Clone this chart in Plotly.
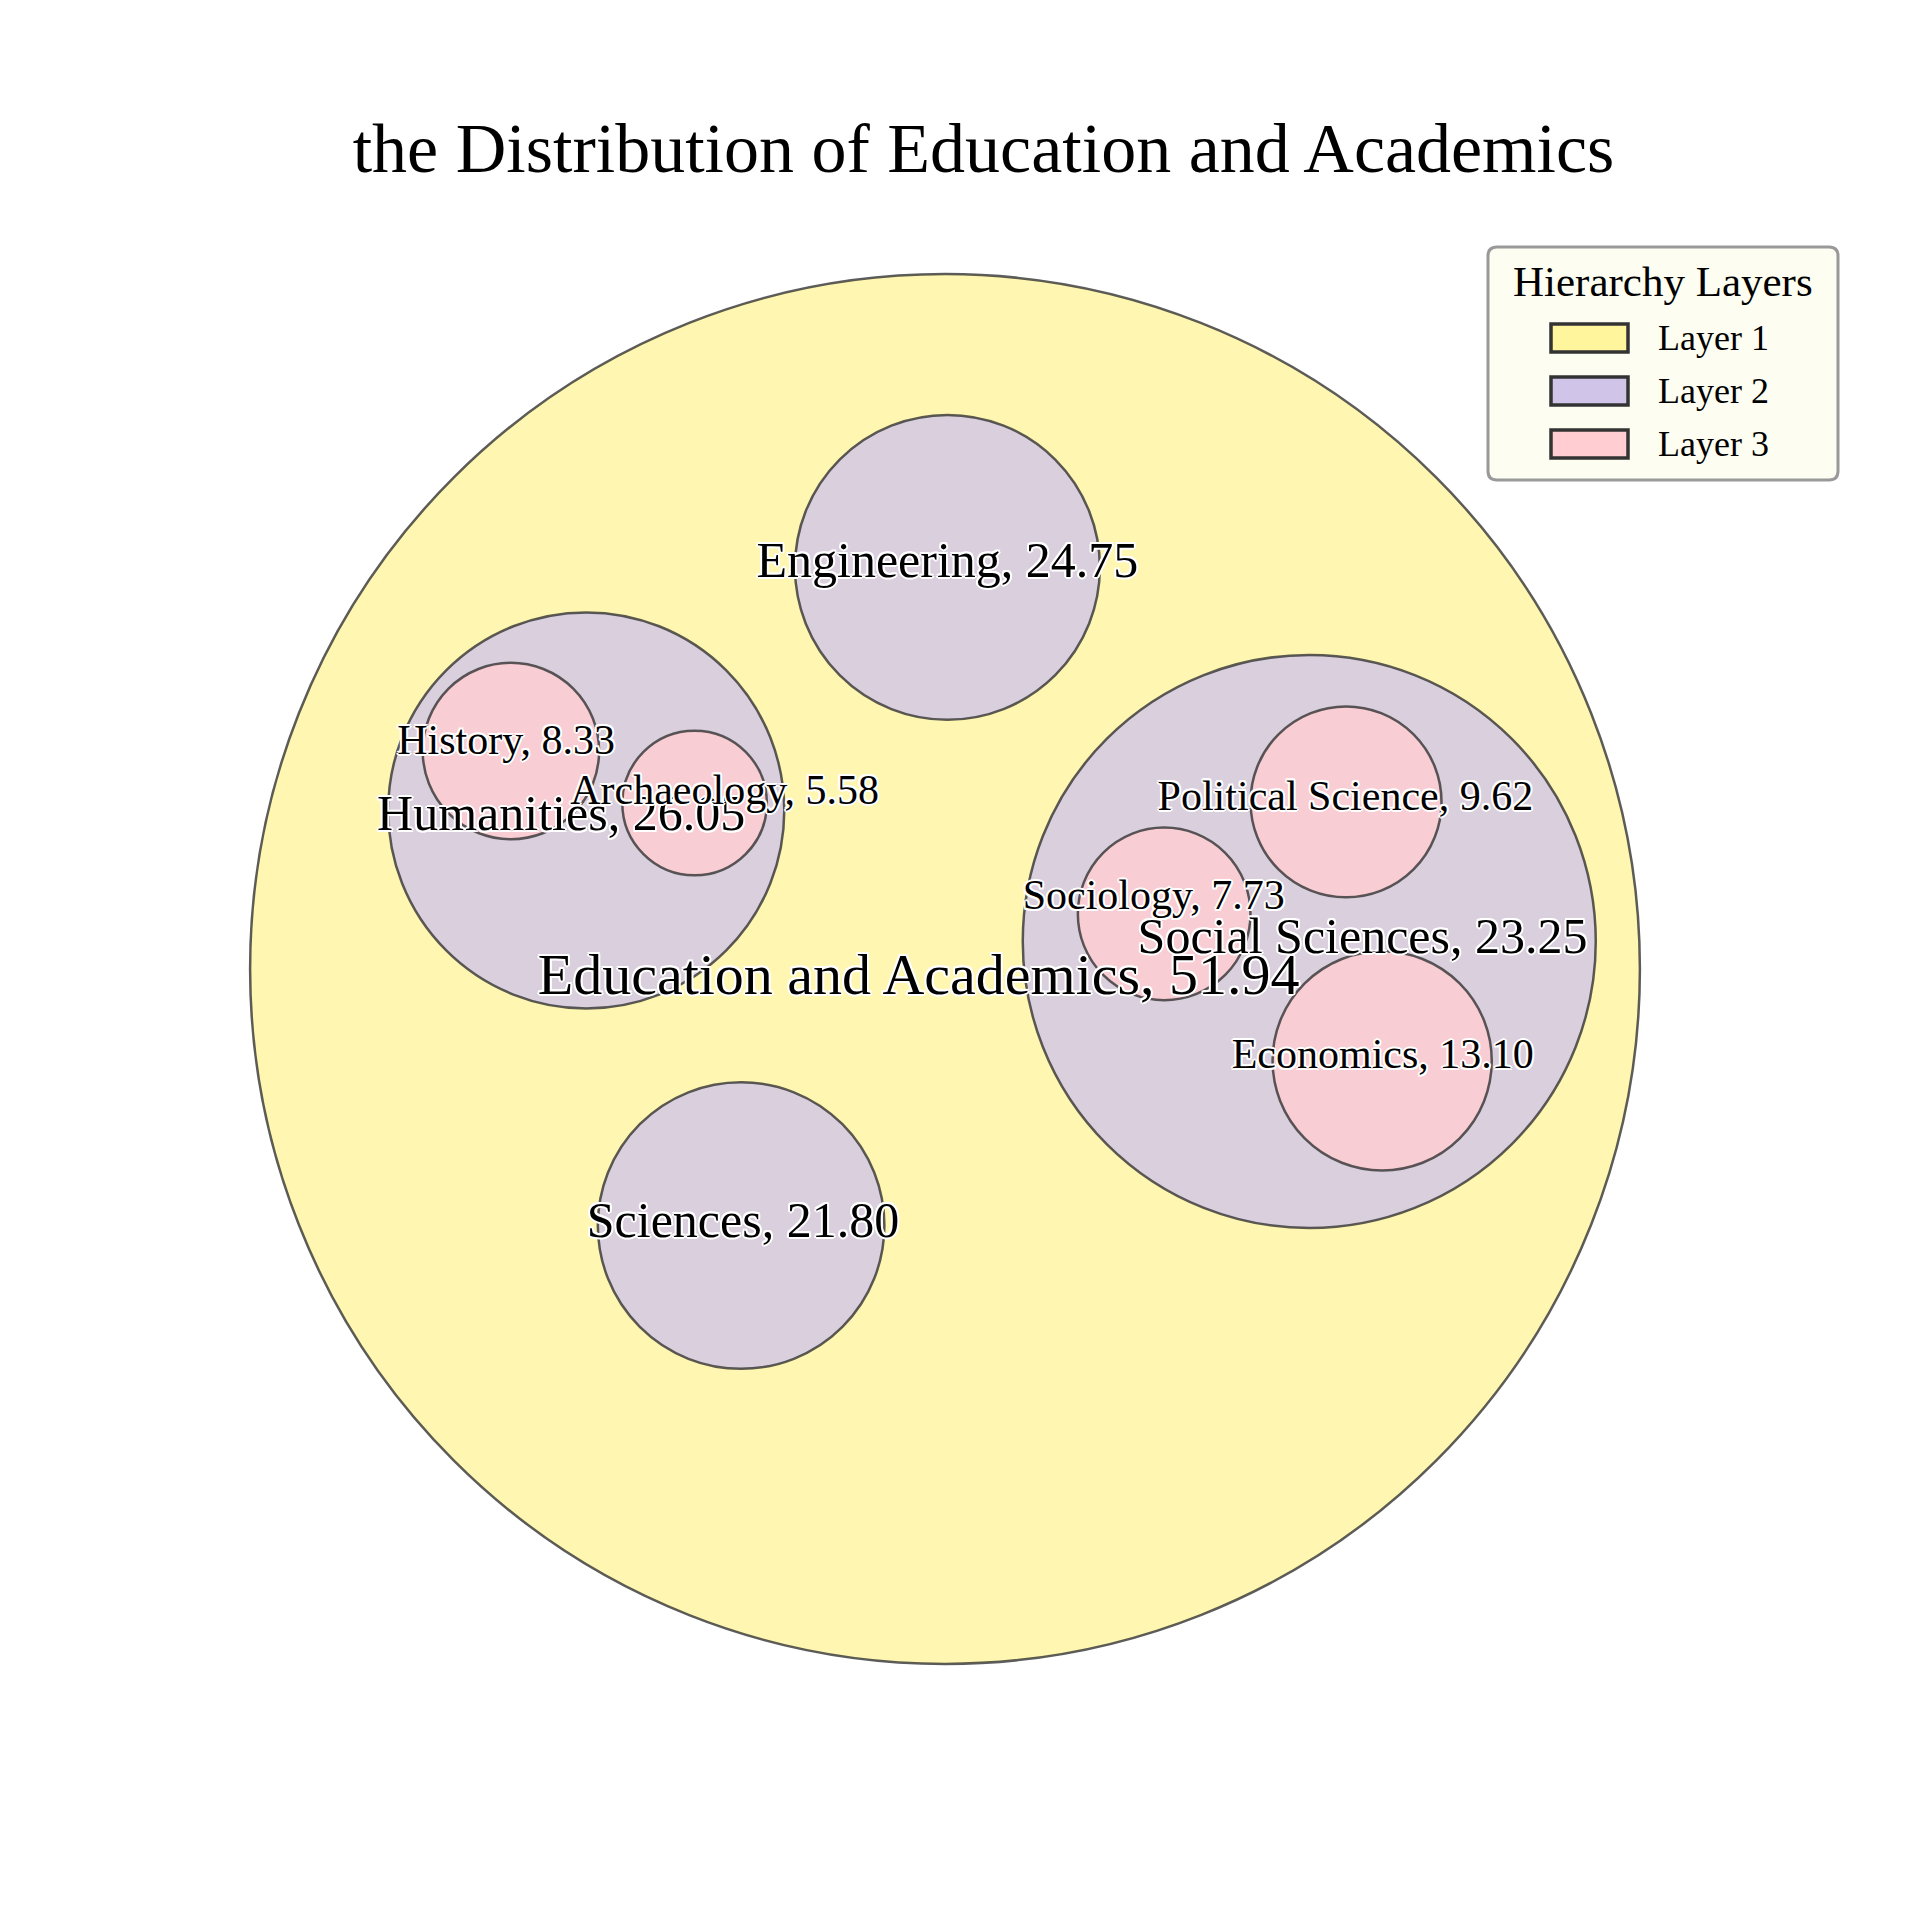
import plotly.graph_objects as go

# ---------------- data ----------------
names = ["Education and Academics", "Humanities", "History", "Archaeology",
         "Sciences", "Engineering", "Social Sciences", "Sociology",
         "Political Science", "Economics"]
values = [51.94, 26.05, 8.33, 5.58, 21.80, 24.75, 23.25, 7.73, 9.62, 13.10]
layers = [1, 2, 3, 3, 2, 2, 2, 3, 3, 3]
# packed circle centres / radii (normalised: outer circle radius = 1)
circle_x = [0.0, -0.5163, -0.6247, -0.3604, -0.2934, 0.0035, 0.5242, 0.3154, 0.5771, 0.6291]
circle_y = [0.0, 0.2282, 0.3137, 0.2388, -0.3692, 0.578, 0.0396, 0.0793, 0.2405, -0.1322]
circle_r = [1.0, 0.285, 0.1269, 0.104, 0.2062, 0.2194, 0.4123, 0.1242, 0.1374, 0.1577]
# label anchor positions
label_x = [-0.0379, -0.5524, -0.6317, -0.3172, -0.2907, 0.0035, 0.6009, 0.3004, 0.5762, 0.6300]
label_y = [-0.0150, 0.2176, 0.3251, 0.2529, -0.3674, 0.5824, 0.0414, 0.1013, 0.2441, -0.1278]
layer_names = ["Layer 1", "Layer 2", "Layer 3"]

# ---------------- style ----------------
FONT = "Liberation Serif"
fill_colors = {1: "rgba(255,245,157,0.8)", 2: "rgba(209,196,233,0.8)", 3: "rgba(255,205,210,0.8)"}
legend_colors = ["#fff59d", "#d1c4e9", "#ffcdd2"]
label_sizes = {1: 58, 2: 50, 3: 42}
edge = "rgba(51,51,51,0.8)"

L, T, W, H = 187, 211, 1500, 1500
R = 750 / 694.9
OX, OY = -8, -8  # pixel offset for legend elements

def px(x):
    return (x + OX - L) / W

def py(y):
    return 1 - (y + OY - T) / H

fig = go.Figure()
shapes = []
for lay in (1, 2, 3):
    for i in range(len(names)):
        if layers[i] != lay:
            continue
        shapes.append(dict(type="circle", xref="x", yref="y", layer="below",
                           x0=circle_x[i] - circle_r[i], x1=circle_x[i] + circle_r[i],
                           y0=circle_y[i] - circle_r[i], y1=circle_y[i] + circle_r[i],
                           fillcolor=fill_colors[lay], line=dict(color=edge, width=2.5)))

texts = [f"{n}, {v:.2f}" for n, v in zip(names, values)]
shadow = ", ".join(f"white {dx}px {dy}px 0px" for dx, dy in
                   [(-2, 0), (2, 0), (0, -2), (0, 2), (-1.5, -1.5), (1.5, -1.5), (-1.5, 1.5), (1.5, 1.5)])
order = [i for lay in (1, 2, 3) for i in range(len(names)) if layers[i] == lay]
fig.add_trace(go.Scatter(
    x=[label_x[i] for i in order], y=[label_y[i] for i in order],
    text=[texts[i] for i in order], mode="text", textposition="middle center",
    textfont=dict(family=FONT, color="black", size=[label_sizes[layers[i]] for i in order],
                  shadow=shadow),
    hoverinfo="skip", showlegend=False))

# ---------------- legend (drawn) ----------------
bx0, by0, bx1, by1, rr = 1488, 247, 1838, 480, 9
path = (f"M {px(bx0 + rr)} {py(by0)} L {px(bx1 - rr)} {py(by0)} "
        f"Q {px(bx1)} {py(by0)} {px(bx1)} {py(by0 + rr)} L {px(bx1)} {py(by1 - rr)} "
        f"Q {px(bx1)} {py(by1)} {px(bx1 - rr)} {py(by1)} L {px(bx0 + rr)} {py(by1)} "
        f"Q {px(bx0)} {py(by1)} {px(bx0)} {py(by1 - rr)} L {px(bx0)} {py(by0 + rr)} "
        f"Q {px(bx0)} {py(by0)} {px(bx0 + rr)} {py(by0)} Z")
shapes.append(dict(type="path", xref="paper", yref="paper", path=path,
                   fillcolor="#fdfdf1", line=dict(color="#999999", width=3)))
annotations = [dict(xref="paper", yref="paper", x=px(1663), y=py(281), text="Hierarchy Layers",
                    showarrow=False, xanchor="center", yanchor="middle",
                    font=dict(family=FONT, size=43, color="black"))]
row_y = [338, 391, 444]
for k, (lname, col) in enumerate(zip(layer_names, legend_colors)):
    shapes.append(dict(type="rect", xref="paper", yref="paper",
                       x0=px(1551), x1=px(1628), y0=py(row_y[k] - 14), y1=py(row_y[k] + 14),
                       fillcolor=col, line=dict(color="#333333", width=3.5)))
    annotations.append(dict(xref="paper", yref="paper", x=px(1656), y=py(row_y[k]), text=lname,
                            showarrow=False, xanchor="left", yanchor="middle",
                            font=dict(family=FONT, size=36, color="black")))

fig.update_layout(
    width=1920, height=1920,
    margin=dict(l=L, r=1920 - L - W, t=T, b=1920 - T - H),
    paper_bgcolor="white", plot_bgcolor="white",
    title=dict(text="the Distribution of Education and Academics", x=975.5 / 1920, y=1 - 139 / 1920,
               xref="container", yref="container", xanchor="center", yanchor="middle",
               font=dict(family=FONT, size=70, color="black")),
    xaxis=dict(range=[-R, R], visible=False, showgrid=False, zeroline=False),
    yaxis=dict(range=[-R, R], visible=False, showgrid=False, zeroline=False,
               scaleanchor="x", scaleratio=1),
    shapes=shapes, annotations=annotations, showlegend=False,
)
fig.write_html("out.html")
